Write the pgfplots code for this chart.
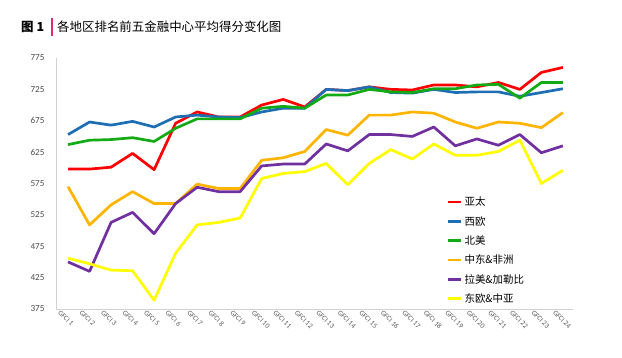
\documentclass[border=0pt]{standalone}
\usepackage{pgfplots}
\pgfplotsset{compat=1.18}
\usepackage{fontspec}
\setmainfont{Carlito}
\newfontfamily\cjk{Noto Sans CJK SC}
\definecolor{cRed}{RGB}{255,0,0}
\definecolor{cBlue}{RGB}{30,110,180}
\definecolor{cGreen}{RGB}{20,170,20}
\definecolor{cOrange}{RGB}{255,180,0}
\definecolor{cPurple}{RGB}{112,48,160}
\definecolor{cYellow}{RGB}{255,255,0}
\definecolor{cPink}{RGB}{230,40,110}
\begin{document}
\begin{tikzpicture}[x=1bp,y=1bp]
\path[use as bounding box] (0,0) rectangle (622,357);
\node[anchor=west, inner sep=0pt, font=\cjk\fontsize{12.5}{14}\selectfont] at (21,330) {\textbf{图 1}};
\draw[cPink, line width=1.3bp] (52,321) -- (52,339);
\node[anchor=west, inner sep=0pt, font=\cjk\fontsize{12.5}{14}\selectfont] at (57,330) {各地区排名前五金融中心平均得分变化图};
\begin{axis}[
  at={(56bp,48bp)}, anchor=south west,
  scale only axis, width=517bp, height=251bp,
  xmin=0.44, xmax=24.47, ymin=375, ymax=775,
  axis x line*=bottom, axis y line*=left,
  axis line style={black!18, line width=1bp},
  major tick length=0pt,
  ytick={375,425,475,525,575,625,675,725,775},
  xtick={1,...,24},
  xticklabels={GFCI 1,GFCI 2,GFCI 3,GFCI 4,GFCI 5,GFCI 6,GFCI 7,GFCI 8,GFCI 9,GFCI 10,GFCI 11,GFCI 12,GFCI 13,GFCI 14,GFCI 15,GFCI 16,GFCI 17,GFCI 18,GFCI 19,GFCI 20,GFCI 21,GFCI 22,GFCI 23,GFCI 24},
  /pgf/number format/assume math mode=true,
  yticklabel style={font=\fontsize{9.2}{10}\selectfont, text=black!70, xshift=-8bp},
  xticklabel style={font=\fontsize{7.2}{8}\selectfont, text=black!65, rotate=-45, anchor=north west, xshift=-5bp, yshift=-5bp, inner sep=0.5pt},
  legend style={at={(0.756,0.455)}, anchor=north west, draw=none, fill=none,
    font=\cjk\fontsize{10.5}{11}\selectfont, row sep=5bp, inner sep=0pt,
    legend cell align=left},
  legend image code/.code={\draw[#1, line width=2.5bp] (0bp,0bp) -- (13bp,0bp);},
  every axis plot/.append style={line width=2.7bp, line join=round, no markers},
]
\addplot[cRed] coordinates {(1,598)(2,598)(3,601)(4,623)(5,597)(6,671)(7,689)(8,681)(9,681)(10,700)(11,709)(12,697)(13,725)(14,723)(15,729)(16,725)(17,724)(18,732)(19,732)(20,729)(21,736)(22,725)(23,752)(24,760)};
\addlegendentry{亚太}
\addplot[cBlue] coordinates {(1,653)(2,673)(3,668)(4,674)(5,665)(6,681)(7,684)(8,681)(9,680)(10,689)(11,695)(12,695)(13,725)(14,723)(15,729)(16,720)(17,719)(18,725)(19,720)(20,721)(21,721)(22,714)(23,720)(24,726)};
\addlegendentry{西欧}
\addplot[cGreen] coordinates {(1,637)(2,644)(3,645)(4,648)(5,642)(6,663)(7,678)(8,678)(9,678)(10,695)(11,698)(12,695)(13,716)(14,716)(15,725)(16,721)(17,720)(18,726)(19,726)(20,732)(21,733)(22,711)(23,736)(24,736)};
\addlegendentry{北美}
\addplot[cOrange] coordinates {(1,570)(2,509)(3,541)(4,562)(5,543)(6,543)(7,574)(8,567)(9,567)(10,612)(11,616)(12,626)(13,661)(14,652)(15,684)(16,684)(17,689)(18,687)(19,673)(20,663)(21,673)(22,671)(23,664)(24,688)};
\addlegendentry{中东\&非洲}
\addplot[cPurple] coordinates {(1,450)(2,435)(3,513)(4,529)(5,495)(6,543)(7,569)(8,562)(9,562)(10,603)(11,606)(12,606)(13,638)(14,627)(15,653)(16,653)(17,650)(18,665)(19,635)(20,646)(21,636)(22,653)(23,624)(24,635)};
\addlegendentry{拉美\&加勒比}
\addplot[cYellow] coordinates {(1,456)(2,447)(3,437)(4,436)(5,389)(6,464)(7,509)(8,513)(9,520)(10,583)(11,591)(12,594)(13,607)(14,573)(15,607)(16,629)(17,614)(18,638)(19,620)(20,620)(21,626)(22,644)(23,575)(24,596)};
\addlegendentry{东欧\&中亚}
\end{axis}
\end{tikzpicture}
\end{document}
